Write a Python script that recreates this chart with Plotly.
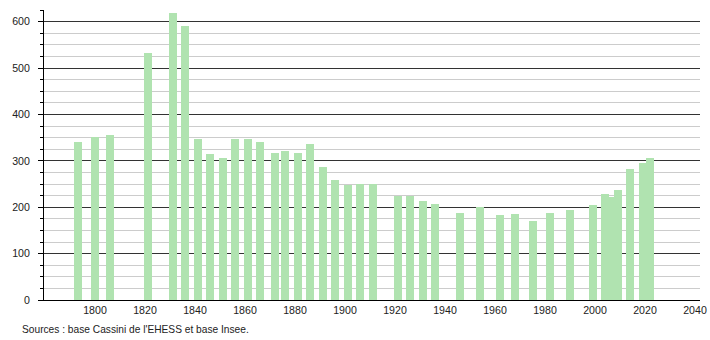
import plotly.graph_objects as go

years = [1793, 1800, 1806, 1821, 1831, 1836, 1841, 1846, 1851, 1856, 1861, 1866,
         1872, 1876, 1881, 1886, 1891, 1896, 1901, 1906, 1911, 1921, 1926, 1931,
         1936, 1946, 1954, 1962, 1968, 1975, 1982, 1990, 1999, 2004, 2006, 2009,
         2014, 2019, 2022]
population = [341, 352, 356, 533, 619, 590, 348, 315, 306, 348, 346, 341,
              317, 322, 317, 337, 286, 258, 247, 251, 251, 225, 225, 213,
              206, 188, 200, 184, 186, 171, 188, 195, 204, 228, 222, 238,
              283, 296, 305]
x_ticks = [1800, 1820, 1840, 1860, 1880, 1900, 1920, 1940, 1960, 1980, 2000, 2020, 2040]
source_text = "Sources : base Cassini de l'EHESS et base Insee."

BAR_COLOR = "#b0e3b0"

fig = go.Figure()
fig.add_trace(go.Bar(
    x=years, y=population, width=[3.2] * len(years),
    marker=dict(color=BAR_COLOR, line=dict(width=0)),
    hoverinfo="x+y",
))

font = dict(family="Liberation Sans, Arial, sans-serif", size=10.6, color="#222")

fig.update_layout(
    width=710, height=340,
    margin=dict(l=44, r=10, t=10, b=40, autoexpand=False),
    paper_bgcolor="white", plot_bgcolor="white",
    showlegend=False,
    font=font,
    bargap=0,
    xaxis=dict(
        range=[1779.6, 2042], tickmode="array", tickvals=x_ticks,
        ticktext=[str(v) for v in x_ticks], automargin=False,
        showgrid=False, zeroline=False, ticks="", showline=True,
        linecolor="#000", linewidth=1, tickfont=font,
    ),
    yaxis=dict(
        range=[0, 625], tick0=0, dtick=100, automargin=False,
        showgrid=True, gridcolor="#333", gridwidth=1,
        zeroline=False, showline=True, linecolor="#000", linewidth=1,
        ticks="outside", ticklen=5, tickcolor="#000", tickwidth=1,
        ticklabelstandoff=6, tickfont=font,
        minor=dict(dtick=25, tick0=0, showgrid=True, gridcolor="#cccccc",
                   gridwidth=1, ticks="outside", ticklen=3, tickcolor="#000"),
    ),
    annotations=[dict(
        text=source_text, xref="paper", yref="paper",
        x=(20 - 44) / 656, y=(300 - 329) / 290, xanchor="left", yanchor="middle",
        showarrow=False, font=dict(family="Liberation Sans, Arial, sans-serif",
                                    size=10.2, color="#222"),
    )],
)

fig.write_html("out.html")
